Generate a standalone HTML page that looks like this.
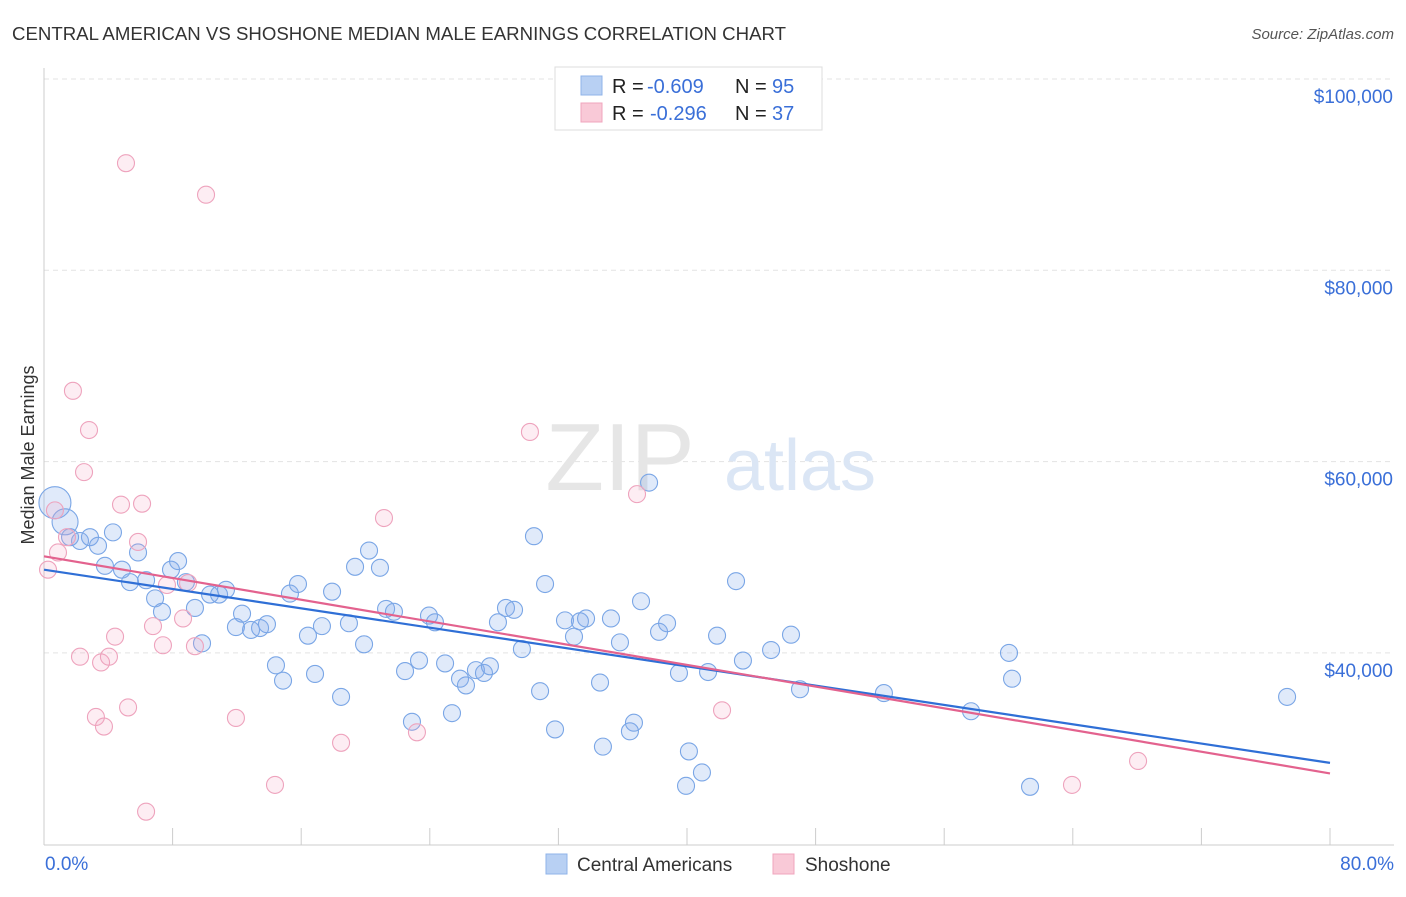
<!DOCTYPE html>
<html><head><meta charset="utf-8"><style>
body{margin:0;background:#fff;font-family:"Liberation Sans",sans-serif;}
svg text{font-family:"Liberation Sans",sans-serif;}
</style></head><body>
<svg id="chart" width="1406" height="892" xmlns="http://www.w3.org/2000/svg">
<text x="12" y="40" font-size="18" fill="#333" textLength="774" lengthAdjust="spacingAndGlyphs">CENTRAL AMERICAN VS SHOSHONE MEDIAN MALE EARNINGS CORRELATION CHART</text>
<text x="1394" y="39" font-size="15" fill="#555" text-anchor="end" font-style="italic">Source: ZipAtlas.com</text>
<g id="grid"></g>
<text x="620" y="490" font-size="96" fill="#e6e6e6" font-family="Liberation Serif" text-anchor="middle">ZIP</text>
<text x="800" y="490" font-size="72" fill="#dbe6f5" text-anchor="middle">atlas</text>
<g id="axes"></g>
<g id="pts"></g>
<g id="trends"></g>
<text x="34" y="455" font-size="18" fill="#333" text-anchor="middle" transform="rotate(-90 34 455)">Median Male Earnings</text>
<g>
<rect x="555" y="67" width="267" height="63" fill="#fff" stroke="#ddd"/>
<rect x="581" y="76" width="21" height="19" fill="#b8d0f3" stroke="#8fb3e8"/>
<rect x="581" y="103" width="21" height="19" fill="#f9c9d7" stroke="#f0a5bd"/>
<text x="612" y="93" font-size="20" fill="#222">R =</text>
<text x="647" y="93" font-size="20" fill="#3a6fd8">-0.609</text>
<text x="735" y="93" font-size="20" fill="#222">N =</text>
<text x="772" y="93" font-size="20" fill="#3a6fd8">95</text>
<text x="612" y="120" font-size="20" fill="#222">R =</text>
<text x="650" y="120" font-size="20" fill="#3a6fd8">-0.296</text>
<text x="735" y="120" font-size="20" fill="#222">N =</text>
<text x="772" y="120" font-size="20" fill="#3a6fd8">37</text>
</g>
<g>
<rect x="546" y="854" width="21" height="20" fill="#b8d0f3" stroke="#8fb3e8"/>
<text x="577" y="871" font-size="19" fill="#333">Central Americans</text>
<rect x="773" y="854" width="21" height="20" fill="#f9c9d7" stroke="#f0a5bd"/>
<text x="805" y="871" font-size="19" fill="#333">Shoshone</text>
</g>
</svg>
<script>
const yTicks=[100000,80000,60000,40000];
const yTickLabels=["$100,000","$80,000","$60,000","$40,000"];
const xTickPct=[0,8,16,24,32,40,48,56,64,72,80];
const blueX=[0.68,1.31,2.24,1.62,2.86,3.36,4.29,3.79,4.85,5.35,5.85,6.35,6.91,7.34,7.90,8.34,8.83,9.39,9.83,10.33,10.89,11.32,11.94,12.32,12.88,13.44,13.87,14.43,14.87,15.30,15.80,16.42,16.86,17.29,17.92,18.48,18.97,19.35,19.91,20.22,20.90,21.28,21.77,22.46,22.89,23.33,23.95,24.32,24.95,25.38,25.88,26.25,26.87,27.37,27.74,28.24,28.74,29.24,29.73,30.48,30.86,31.17,31.79,32.41,32.97,33.34,33.72,34.59,34.77,35.27,35.83,36.45,36.70,37.14,37.64,38.26,38.76,39.50,39.94,40.12,40.93,41.31,41.87,43.05,43.48,45.23,46.47,47.03,52.25,57.67,60.03,60.22,61.34,77.33];
const blueY=[55700,53700,51700,52100,52100,51200,52600,49100,48700,47400,50500,47600,45700,44300,48700,49600,47400,44700,41000,46100,46100,46600,42700,44100,42400,42600,43000,38700,37100,46200,47200,41800,37800,42800,46400,35400,43100,49000,40900,50700,48900,44600,44300,38100,32800,39200,43900,43200,38900,33700,37300,36600,38200,37900,38600,43200,44700,44500,40400,52200,36000,47200,32000,43400,41700,43300,43600,36900,30200,43600,41100,31800,32700,45400,57800,42200,43100,37900,26100,29700,27500,38000,41800,47500,39200,40300,41900,36200,35800,33900,40000,37300,26000,35400];
const pinkX=[0.25,0.68,0.87,1.43,1.80,2.49,2.80,2.24,3.23,3.55,3.73,4.04,4.42,4.79,5.23,5.85,6.10,6.78,7.40,7.65,8.65,8.96,9.39,5.10,10.08,11.94,14.37,6.35,18.48,21.15,23.20,30.23,36.89,42.18,63.95,68.06];
const pinkY=[48700,54900,50500,52100,67400,58900,63300,39600,33300,39000,32300,39600,41700,55500,34300,51600,55600,42800,40800,47100,43600,47300,40700,91200,87900,33200,26200,23400,30600,54100,31700,63100,56600,34000,26200,28700];
const blueTrend=[48700,28500];
const pinkTrend=[50100,27400];
const NS="http://www.w3.org/2000/svg";
const X=p=>44+p*1286/80;
const Y=v=>79+(100000-v)*191.3/20000;
function mk(tag,attrs,parent){const e=document.createElementNS(NS,tag);for(const k in attrs)e.setAttribute(k,attrs[k]);parent.appendChild(e);return e;}
const grid=document.getElementById('grid'),axes=document.getElementById('axes'),pts=document.getElementById('pts'),tr=document.getElementById('trends');
yTicks.forEach((v,i)=>{
 const l=mk('line',{x1:44,x2:1394,y1:Y(v),y2:Y(v),stroke:'#e3e3e3','stroke-dasharray':'5,4'},grid);
 
 
 const t=mk('text',{x:1393,y:Y(v)+24,'font-size':19,fill:'#3a6fd8','text-anchor':'end'},axes);
 t.textContent=yTickLabels[i];
 
 
});
const ax=mk('line',{x1:44,x2:1394,y1:845,y2:845,stroke:'#ccc'},axes);


const ay=mk('line',{x1:44,x2:44,y1:68,y2:845,stroke:'#ccc'},axes);


xTickPct.forEach(p=>{
 const t=mk('line',{x1:X(p),x2:X(p),y1:828,y2:845,stroke:'#ccc'},axes);
 
 
});
const xl=mk('text',{x:45,y:870,'font-size':19,fill:'#3a6fd8'},axes);xl.textContent='0.0%';


const xr=mk('text',{x:1394,y:870,'font-size':19,fill:'#3a6fd8','text-anchor':'end'},axes);xr.textContent='80.0%';


blueX.forEach((x,i)=>{
 const r=i===0?16:(i===1?13:8.5);
 const c=mk('circle',{cx:X(x),cy:Y(blueY[i]),r:r,fill:'rgba(130,170,235,0.25)',stroke:'#7aa6e6','stroke-width':1.1},pts);
 
 
});
pinkX.forEach((x,i)=>{
 const c=mk('circle',{cx:X(x),cy:Y(pinkY[i]),r:8.5,fill:'rgba(245,165,195,0.2)',stroke:'#eea3bd','stroke-width':1.1},pts);
 
 
});
const bl=mk('line',{x1:X(0),x2:X(80),y1:Y(blueTrend[0]),y2:Y(blueTrend[1]),stroke:'#2f6fd6','stroke-width':2.2},tr);


const pl=mk('line',{x1:X(0),x2:X(80),y1:Y(pinkTrend[0]),y2:Y(pinkTrend[1]),stroke:'#e3628e','stroke-width':2.2},tr);


</script>
</body></html>
